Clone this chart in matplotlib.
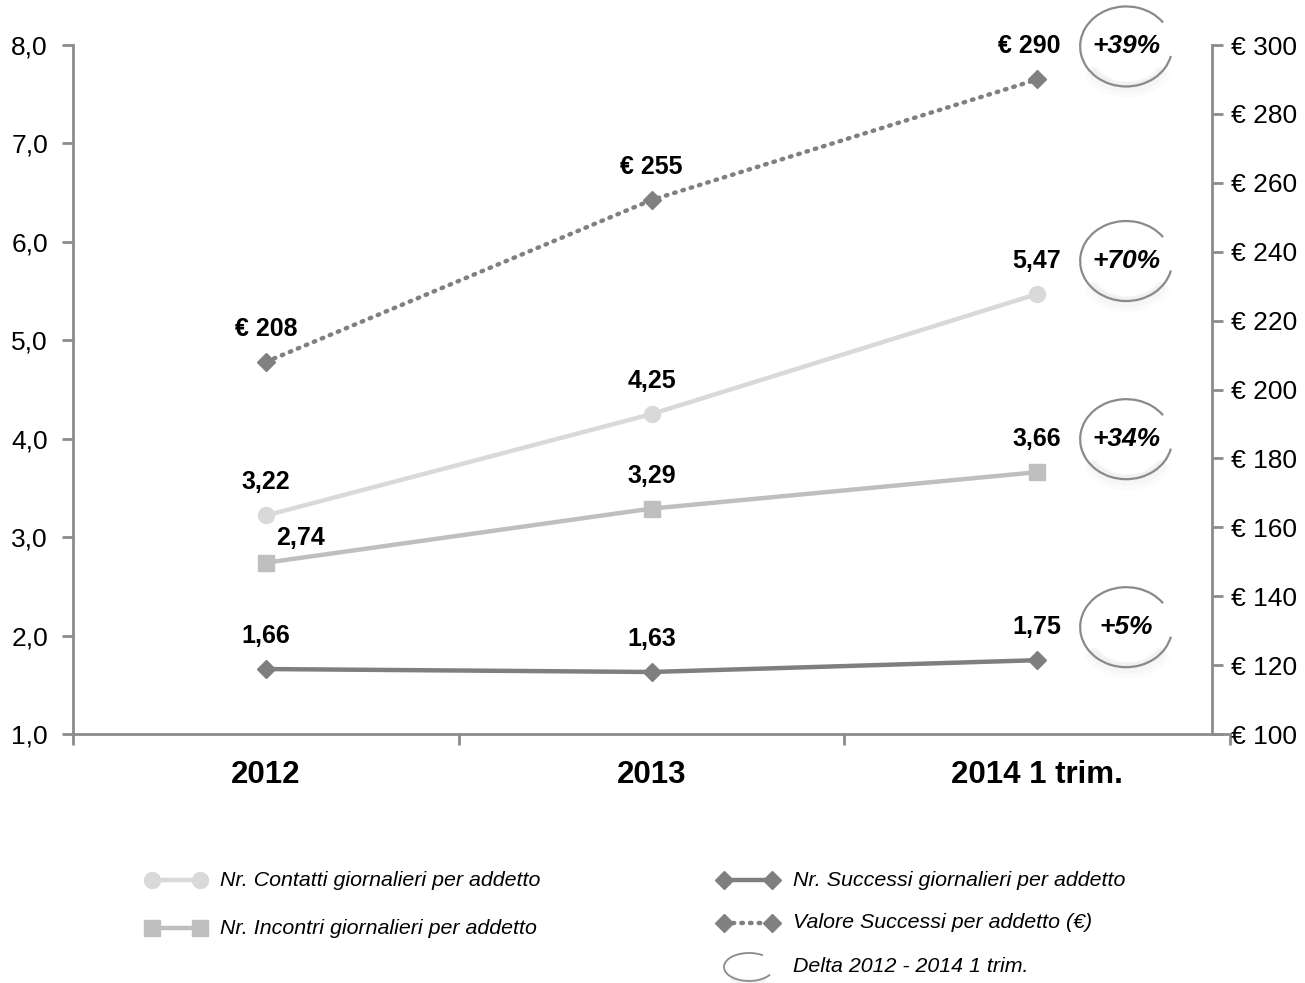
import matplotlib
matplotlib.use("Agg")
import matplotlib.pyplot as plt
from matplotlib.patches import Arc
from matplotlib.lines import Line2D
from matplotlib.transforms import IdentityTransform
from matplotlib.ticker import FixedLocator

plt.rcParams['font.family'] = ['Liberation Sans', 'DejaVu Sans']

categories = ["2012", "2013", "2014 1 trim."]
contatti = [3.22, 4.25, 5.47]
incontri = [2.74, 3.29, 3.66]
successi = [1.66, 1.63, 1.75]
valore = [208, 255, 290]
contatti_labels = ["3,22", "4,25", "5,47"]
incontri_labels = ["2,74", "3,29", "3,66"]
successi_labels = ["1,66", "1,63", "1,75"]
valore_labels = ["€ 208", "€ 255", "€ 290"]
left_ticks = [1, 2, 3, 4, 5, 6, 7, 8]
left_ticklabels = ["1,0", "2,0", "3,0", "4,0", "5,0", "6,0", "7,0", "8,0"]
right_ticks = [100, 120, 140, 160, 180, 200, 220, 240, 260, 280, 300]
right_ticklabels = ["€ 100", "€ 120", "€ 140", "€ 160", "€ 180", "€ 200",
                    "€ 220", "€ 240", "€ 260", "€ 280", "€ 300"]
delta_labels = ["+70%", "+34%", "+5%", "+39%"]

W, H = 1305, 983
fig = plt.figure(figsize=(W / 100, H / 100), dpi=100)
ax = fig.add_axes([73 / W, 1 - 734 / H, (1230 - 73) / W, (734 - 45) / H])
ax2 = ax.twinx()

x = list(range(len(categories)))
AXC = "#8c8c8c"

c_cont = "#d9d9d9"
c_inc = "#bfbfbf"
c_succ = "#7f7f7f"
c_val = "#808080"

ax.plot(x, contatti, color=c_cont, lw=3.2, marker="o", ms=11.5, zorder=3)
ax.plot(x, incontri, color=c_inc, lw=3.2, marker="s", ms=11.5, zorder=3)
ax.plot(x, successi, color=c_succ, lw=3.2, marker="D", ms=9.5, zorder=3)
ax2.plot(x, valore, color=c_val, lw=3.2, linestyle=(0, (0.35, 1.6)),
         dash_capstyle="round", marker="D", ms=9.5, zorder=3)

ax.set_xlim(-0.5, 2.5)
ax.set_ylim(1, 8)
ax2.set_ylim(100, 300)

# axes styling
for a in (ax, ax2):
    for s in a.spines.values():
        s.set_visible(False)
ax.spines['left'].set_visible(True)
ax.spines['bottom'].set_visible(True)
ax2.spines['right'].set_visible(True)
ax2.spines['right'].set_position(('axes', (1212 - 73) / (1230 - 73)))
for s in (ax.spines['left'], ax.spines['bottom'], ax2.spines['right']):
    s.set_color(AXC)
    s.set_linewidth(2)

ax.set_yticks(left_ticks)
ax.set_yticklabels(left_ticklabels, fontsize=19)
ax.tick_params(axis='y', direction='out', length=8, width=2, color=AXC, pad=10)
ax2.set_yticks(right_ticks)
ax2.set_yticklabels(right_ticklabels, fontsize=19)
ax2.tick_params(axis='y', direction='out', length=8, width=2, color=AXC, pad=6)

ax.set_xticks(x)
ax.set_xticklabels(categories, fontsize=22.5, fontweight='bold')
ax.tick_params(axis='x', which='major', length=0, pad=19)
ax.xaxis.set_minor_locator(FixedLocator([-0.5, 0.5, 1.5, 2.5]))
ax.tick_params(axis='x', which='minor', direction='out', length=8, width=2, color=AXC)

# value labels
def label(axis, xs, ys, texts, dx=0, dy=33):
    for xi, yi, t in zip(xs, ys, texts):
        axis.annotate(t, (xi, yi), xytext=(dx, dy), textcoords='offset pixels',
                      ha='center', va='center', fontsize=18, fontweight='bold',
                      zorder=5)

label(ax, x, contatti, contatti_labels)
label(ax, x[:1], incontri[:1], incontri_labels[:1], dx=35, dy=25)
label(ax, x[1:], incontri[1:], incontri_labels[1:], dx=0, dy=33)
label(ax, x, successi, successi_labels)
label(ax2, x[:2], valore[:2], valore_labels[:2])
label(ax2, x[2:], valore[2:], valore_labels[2:], dx=-8)

# delta ellipses
fig.canvas.draw()
last_pts = [ax.transData.transform((x[-1], contatti[-1])),
            ax.transData.transform((x[-1], incontri[-1])),
            ax.transData.transform((x[-1], successi[-1])),
            ax2.transData.transform((x[-1], valore[-1]))]

def draw_ellipse(cx, cy, w, h, lw=1.6, text=None, fs=19):
    # soft shadow
    for off, a, l in [(8, 0.04, 12), (6, 0.05, 8), (4, 0.06, 4)]:
        fig.add_artist(Arc((cx + 1, cy - off), w - 8, h - 10, theta1=205, theta2=335,
                           transform=IdentityTransform(), color="#a8a8a8",
                           lw=l, alpha=a, zorder=1))
    fig.add_artist(Arc((cx, cy), w, h, theta1=33, theta2=348,
                       transform=IdentityTransform(), color="#8a8a8a",
                       lw=lw, zorder=4))
    if text:
        fig.text(cx / W, cy / H, text, ha='center', va='center', fontsize=fs,
                 fontweight='bold', style='italic')

for (px, py), t in zip(last_pts, delta_labels):
    draw_ellipse(px + 89, py + 33, 92, 80, text=t)

# legend (manual)
def leg_line(x0, x1, y, color, marker, ms, ls='-', lw=3.2):
    l = Line2D([x0 / W, x1 / W], [1 - y / H, 1 - y / H], transform=fig.transFigure,
               color=color, lw=lw, ls=ls, marker=marker, ms=ms, dash_capstyle='round')
    fig.add_artist(l)

leg_fs = 15.4
leg_line(152, 200, 880, c_cont, 'o', 11.5)
fig.text(220 / W, 1 - 880 / H, "Nr. Contatti giornalieri per addetto",
         fontsize=leg_fs, style='italic', va='center')
leg_line(152, 200, 928, c_inc, 's', 11)
fig.text(220 / W, 1 - 928 / H, "Nr. Incontri giornalieri per addetto",
         fontsize=leg_fs, style='italic', va='center')
leg_line(724, 772, 880, c_succ, 'D', 9)
fig.text(793 / W, 1 - 880 / H, "Nr. Successi giornalieri per addetto",
         fontsize=leg_fs, style='italic', va='center')
leg_line(724, 772, 923, c_val, 'D', 9, ls=(0, (0.35, 1.6)))
fig.text(793 / W, 1 - 923 / H, "Valore Successi per addetto (€)",
         fontsize=leg_fs, style='italic', va='center')
fig.add_artist(Arc((749, H - 967), 50, 28, theta1=40, theta2=340,
                   transform=IdentityTransform(), color="#8a8a8a", lw=1.3))
fig.add_artist(Arc((750, H - 970), 46, 24, theta1=200, theta2=330,
                   transform=IdentityTransform(), color="#aaaaaa", lw=4, alpha=0.15))
fig.text(793 / W, 1 - 967 / H, "Delta 2012 - 2014 1 trim.",
         fontsize=leg_fs, style='italic', va='center')

fig.savefig("out.png", dpi=100)
